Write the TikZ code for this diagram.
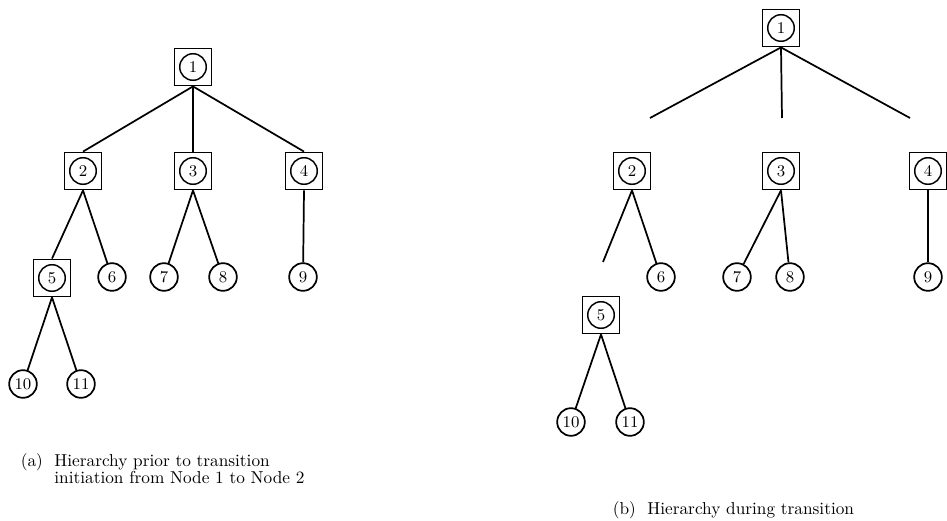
\documentclass[tikz,border=0pt]{standalone}
\usepackage{amsmath}
\usetikzlibrary{calc}

\begin{document}
\begin{tikzpicture}[x=0.55pt, y=-0.55pt, line width=0.95pt,
  boxnode/.style={draw, rectangle, minimum size=20.4pt, inner sep=0pt, font=\small,
    path picture={\draw[line width=0.8pt] (path picture bounding box.center) circle (7.3pt);}},
  leaf/.style={draw, circle, minimum size=15.2pt, inner sep=0pt, font=\small},
  caption/.style={anchor=base west, inner sep=0pt, font=\fontsize{9.5}{10.5}\selectfont}]

  \useasboundingbox (0,0) rectangle (947,521);

  % (a) hierarchy before the transition starts
  \node[boxnode] (a1) at (193,67) {1};
  \node[boxnode] (a2) at (83,171) {2};
  \node[boxnode] (a3) at (193,171) {3};
  \node[boxnode] (a4) at (304,171) {4};
  \node[boxnode] (a5) at (52,278) {5};
  \node[leaf] (a6) at (112,277) {6};
  \node[leaf] (a7) at (164,277) {7};
  \node[leaf] (a8) at (223,277) {8};
  \node[leaf] (a9) at (303,277) {9};
  \node[leaf] (a10) at (23,384) {10};
  \node[leaf] (a11) at (81,384) {11};

  \draw (a1.south) -- (a2.north);
  \draw (a1.south) -- (a3.north);
  \draw (a1.south) -- (a4.north);
  \draw (a2.south) -- (a5.north);
  \draw (a2.south) -- (a6);
  \draw (a3.south) -- (a7);
  \draw (a3.south) -- (a8);
  \draw (a4.south) -- (a9);
  \draw (a5.south) -- (a10);
  \draw (a5.south) -- (a11);

  \node[caption] (capa) at (20,466)
    {\begin{tabular}[t]{@{}l@{\ \ }l@{}}
       (a) & Hierarchy prior to transition\\[-1pt]
           & initiation from Node 1 to Node 2
     \end{tabular}};

  % (b) hierarchy while the transition is going on
  \node[boxnode] (b1) at (781,28) {1};
  \node[boxnode] (b2) at (632,171) {2};
  \node[boxnode] (b3) at (781,171) {3};
  \node[boxnode] (b4) at (928,171) {4};
  \node[boxnode] (b5) at (601,315) {5};
  \node[leaf] (b6) at (661,277) {6};
  \node[leaf] (b7) at (737,277) {7};
  \node[leaf] (b8) at (790,277) {8};
  \node[leaf] (b9) at (928,277) {9};
  \node[leaf] (b10) at (571,422) {10};
  \node[leaf] (b11) at (630,422) {11};

  % links that are cut loose
  \coordinate (c1) at (650,118);
  \coordinate (c2) at (782,118);
  \coordinate (c3) at (910,118);
  \coordinate (c4) at (603,262);

  \draw (b1.south) -- (c1);
  \draw (b1.south) -- (c2);
  \draw (b1.south) -- (c3);
  \draw (b2.south) -- (c4);
  \draw (b2.south) -- (b6);
  \draw (b3.south) -- (b7);
  \draw (b3.south) -- (b8);
  \draw (b4.south) -- (b9);
  \draw (b5.south) -- (b10);
  \draw (b5.south) -- (b11);

  \node[caption] (capb) at (612,514)
    {\begin{tabular}[t]{@{}l@{\ \ }l@{}}
       (b) & Hierarchy during transition
     \end{tabular}};
\end{tikzpicture}
\end{document}
